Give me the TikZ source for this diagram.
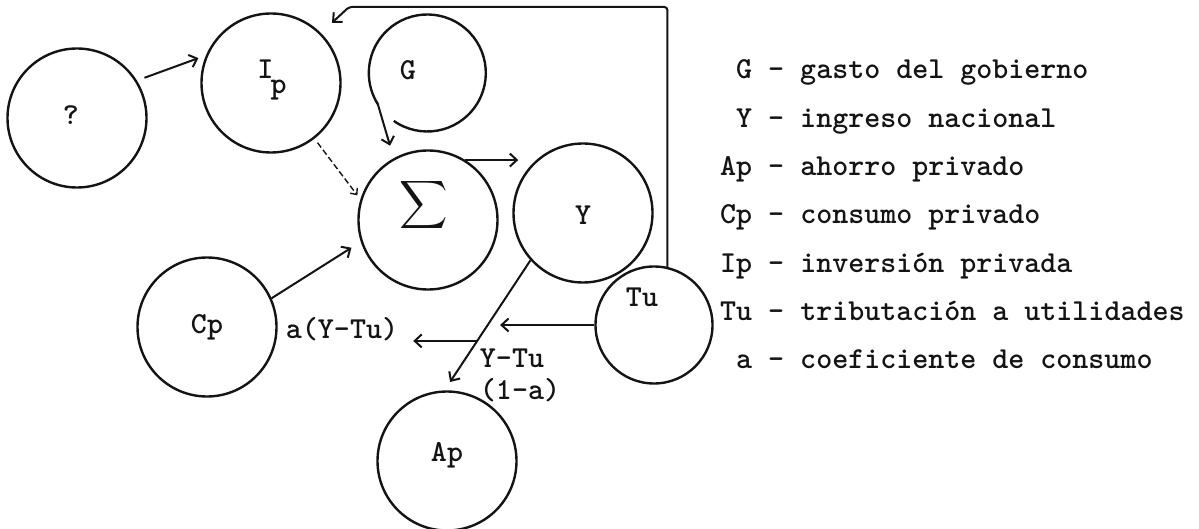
\documentclass[tikz,border=0pt]{standalone}
\usepackage{amsmath}
\usepackage{fontspec}
\usepackage{tikz}
\usetikzlibrary{arrows.meta}
\definecolor{tinte}{HTML}{141414}
\newcommand{\schrift}{\fontsize{30.5}{36}\selectfont\ttfamily\bfseries}
\tikzset{
  kreis/.style={circle,draw=tinte,line width=2.4pt,inner sep=0pt,minimum size=139pt},
  kreisk/.style={kreis,minimum size=117pt},
  pfeil/.style={-{Straight Barb[length=7pt,width=13pt]},tinte,line width=2pt},
  hilf/.style={-{Straight Barb[length=5pt,width=9pt]},tinte,dash pattern=on 6pt off 3pt,line width=1.4pt},
  txt/.style={font=\schrift,text=tinte,inner sep=1pt},
  leg/.style={txt,anchor=base west,inner sep=0pt},
  every label/.style={font=\schrift,text=tinte,inner sep=0pt},
}

\begin{document}
\begin{tikzpicture}[x=1pt,y=-1pt]
  \useasboundingbox (0,0) rectangle (1199,529);
  \node[kreis,label={[xshift=-6pt,yshift=3pt]center:?}] (q) at (77,118) {};
  \node[kreis,label={[xshift=1pt,yshift=3pt]center:I\kern-3pt\raisebox{-15pt}{p}}] (Ip) at (271,83) {};
  \node[kreisk,draw=none,label={[xshift=-20pt,yshift=2pt]center:G}] (G) at (428,72) {};
  % G: Kreis mit Luecke unten links, wo der Pfeil austritt
  \draw[tinte,line width=2.4pt] (G.235) arc[start angle=235,delta angle=338,radius=58.5pt];
  \node[kreis,label={[xshift=-4pt,yshift=15pt]center:\scalebox{1.35}{$\displaystyle\sum$}}] (S) at (428,220) {};
  \node[kreis,label={[yshift=-2pt]center:Y}] (Y) at (583,213) {};
  \node[kreis,label={center:Cp}] (Cp) at (207,327) {};
  \node[kreisk,label={[xshift=-12pt,yshift=28pt]center:Tu}] (Tu) at (654,325) {};
  \node[kreis,label={[yshift=6pt]center:Ap}] (Ap) at (447,461) {};
  \node[txt] (ayt) at (342,329) {a(Y-Tu)};
  \node[txt] (ytu) at (512,358) {Y-Tu};
  \node[txt] (eina) at (520,390) {(1-a)};
  % Zufluesse zur Summe
  \draw[pfeil,shorten <=8pt,shorten >=8pt] (q.32) -- (Ip.157);
  \draw[hilf,shorten <=5pt,shorten >=5pt] (Ip.-52) -- (S.163);
  \draw[pfeil,shorten >=13pt] (G.213) -- (S.119);
  \draw[pfeil,shorten >=11pt] (Cp.24) -- (S.198);
  \draw[pfeil,shorten >=-6pt] (S.58) -- (S.58 -| Y.west);
  % Aufteilung von Y
  \draw[pfeil,shorten >=10pt] (Y.222) -- coordinate[pos=0.47] (ym) coordinate[pos=0.62] (yc) (Ap.92);
  \draw[pfeil,shorten >=10pt] (Tu.west) -- (Tu.west -| ym);
  \draw[pfeil,shorten >=14pt] (yc) -- (yc -| ayt.east);
  % Rueckkopplung von Tu nach Ip
  \coordinate (fb) at (349,7);
  \draw[pfeil,rounded corners=3pt,shorten >=15pt] (Tu.77) |- (fb) -- (Ip.45);
  % Legende
  \foreach \eintrag [count=\i] in {
    {\hphantom{A}G - gasto del gobierno},
    {\hphantom{A}Y - ingreso nacional},
    {Ap - ahorro privado},
    {Cp - consumo privado},
    {Ip - inversión privada},
    {Tu - tributación a utilidades},
    {\hphantom{A}a - coeficiente de consumo}}
    \node[leg] (leg\i) at (720,{79+48.3*(\i-1)}) {\eintrag};
\end{tikzpicture}
\end{document}
